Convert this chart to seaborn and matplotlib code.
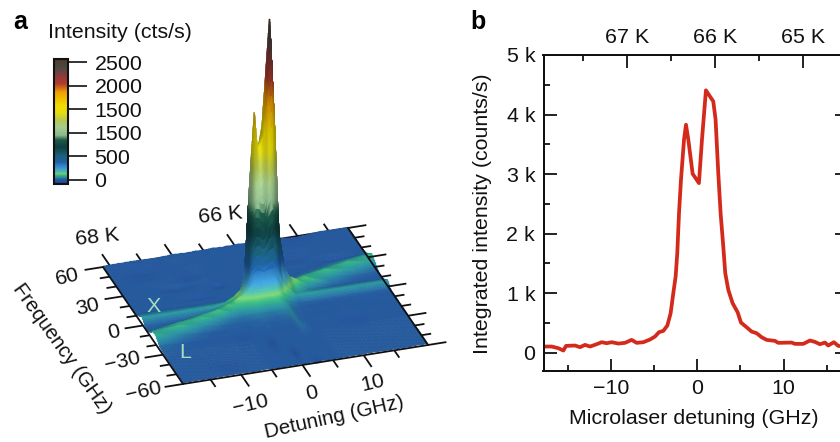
import numpy as np
import matplotlib
matplotlib.use("Agg")
import matplotlib.pyplot as plt
import seaborn as sns
from matplotlib.cm import ScalarMappable
from matplotlib.colors import LinearSegmentedColormap, Normalize

# ── Panel b: integrated intensity vs detuning ─────────────────
profile_detuning = [
    -17.84, -16.87, -16.10, -15.52, -15.21, -14.17, -13.59, -13.01, -12.43, -11.66,
    -11.08, -10.50, -9.92, -9.15, -8.38, -7.61, -7.03, -6.25, -5.48, -4.90,
    -4.44, -3.94, -3.47, -3.09, -2.78, -2.51, -2.32, -2.12, -1.89, -1.54,
    -1.31, -1.04, -0.54, 0.19, 0.54, 1.00, 1.85, 2.12, 2.43, 2.70,
    3.01, 3.24, 3.59, 4.09, 4.67, 5.06, 5.71, 6.29, 6.87, 7.45,
    8.03, 9.00, 9.38, 10.93, 11.31, 12.28, 13.05, 13.63, 14.21, 14.79,
    15.17, 15.83, 16.33, 17.00,
]
profile_counts = [
    101, 101, 73, 34, 112, 118, 90, 129, 101, 140,
    174, 157, 174, 151, 163, 213, 163, 174, 219, 269,
    342, 364, 454, 661, 998, 1278, 1670, 2343, 2904, 3576,
    3828, 3576, 3004, 2847, 3576, 4406, 4221, 3913, 3016, 2343,
    1783, 1334, 1054, 830, 678, 504, 426, 353, 325, 258,
    213, 196, 163, 168, 146, 146, 202, 179, 140, 168,
    118, 174, 112, 101,
]
y_ticks_b = [0, 1000, 2000, 3000, 4000, 5000]
y_labels_b = ["0", "1 k", "2 k", "3 k", "4 k", "5 k"]
x_ticks_b = [-10, 0, 10]
temps_b = [67, 66, 65]
temp_labels_b = ["67 K", "66 K", "65 K"]

# ── Panel a: intensity map ────────────────────────────────────
map_detuning = [-19.5, -15, -11, -8, -6, -4.5, -3.2, -2.4, -1.7, -0.9, -0.45, 0,
                0.6, 1.2, 1.8, 2.5, 3.2, 4.2, 5.5, 8, 12, 16, 20.5]
map_frequency = [60, 48, 38, 32, 28, 24, 20, 16, 13, 10, 8, 6, 4, 2, 0,
                 -2, -4, -7, -10, -14, -18, -24, -35, -48, -60]
map_counts = [
    [8, 12, 5, 15, 8, 12, 6, 10, 14, 9, 11, 7, 12, 8, 10, 14, 9, 6, 12, 7, -8, 10, 6],
    [12, -10, 10, 6, 14, 9, 12, 8, 10, 13, 7, 11, 9, 14, 8, 10, 12, 9, -12, 10, 12, 6, 9],
    [6, 10, 14, -5, 10, 8, 13, 11, 9, 12, 10, 14, 8, 11, 13, 9, 12, 15, 8, -6, 10, 13, 7],
    [10, 7, 12, 9, 16, 11, 9, 12, 10, 8, 13, 11, 14, 10, 9, 12, 10, 8, 11, 13, 9, -10, 22],
    [9, 12, -8, 11, 8, 13, 10, 14, 11, 9, 12, 8, 10, 13, 11, 10, 14, 12, 9, 8, 12, 28, 45],
    [7, 11, 9, 13, 10, -8, 12, 9, 11, 13, 10, 12, 9, 11, 14, 12, 10, 13, 8, 11, 25, 55, 88],
    [12, 8, 13, 10, 7, 11, 9, 12, 10, 14, 11, 13, 10, 12, 14, 11, 13, 9, 12, 22, 55, 92, 60],
    [8, 12, 10, -6, 13, 10, 12, 11, 9, 13, 12, 10, 14, 12, 18, 15, 13, 12, 24, 60, 95, 58, 25],
    [11, 9, 13, 10, 9, 12, 14, 10, 12, 16, 20, 35, 55, 70, 60, 45, 22, 24, 55, 90, 60, 25, 12],
    [9, 11, 8, 12, 11, 14, 12, 20, 45, 75, 90, 160, 320, 480, 420, 260, 90, 65, 90, 110, 35, 14, 9],
    [25, 25, 22, 20, 15, 13, 22, 60, 220, 520, 600, 700, 950, 1300, 1500, 1050, 340, 170, 150, 70, 16, 11, 13],
    [30, 30, 28, 30, 28, 30, 60, 170, 800, 1250, 1350, 1400, 1600, 2100, 2570, 1750, 650, 260, 130, 40, 14, 14, 12],
    [48, 48, 46, 46, 46, 55, 140, 280, 1050, 1780, 1450, 1450, 1550, 1950, 2350, 1500, 500, 220, 90, 34, 30, 28, 28],
    [62, 60, 60, 62, 72, 110, 170, 260, 700, 1000, 1000, 950, 950, 1150, 1250, 800, 260, 150, 65, 50, 46, 48, 44],
    [38, 36, 38, 42, 65, 100, 170, 220, 300, 340, 340, 320, 320, 340, 340, 260, 170, 110, 65, 62, 60, 58, 60],
    [22, 22, 28, 45, 80, 125, 160, 180, 200, 210, 200, 190, 190, 200, 200, 170, 110, 70, 40, 42, 40, 38, 42],
    [14, 16, 35, 70, 110, 95, 100, 110, 120, 120, 115, 110, 110, 115, 115, 100, 75, 45, 20, 18, 16, 18, 16],
    [12, 30, 75, 105, 65, 55, 60, 65, 70, 70, 65, 65, 65, 65, 70, 65, 60, 25, 14, 11, 9, 12, 10],
    [28, 72, 92, 55, 30, 30, 35, 40, 40, 40, 35, 35, 35, 40, 40, 45, 50, 20, 12, 13, 10, 9, 12],
    [70, 90, 45, 22, 15, 18, 20, 22, 25, 25, 22, 22, 20, 22, 25, 30, 45, 18, 11, 9, 12, 8, 11],
    [80, 40, 14, 11, 14, 12, 16, 14, 15, 16, 14, 13, 14, 15, 16, 20, 40, 15, 10, 12, 9, 13, 8],
    [28, 10, 13, 9, -6, 11, 12, 10, 14, 12, 10, 13, 11, 12, 10, 14, 30, 22, 9, 11, -5, 10, 12],
    [12, 9, 11, 14, 8, 12, 10, -8, 11, 13, 9, 12, 10, 14, 11, 9, 12, 10, 13, 8, 11, 12, 9],
    [8, 13, -6, 10, 12, 9, 13, 11, 8, 12, 10, -7, 12, 9, 13, 10, 11, 14, 9, 12, 10, 8, 11],
    [11, 9, 12, 8, 13, 10, 9, 12, 11, 9, 13, 10, 8, 12, 10, -5, 13, 9, 11, 10, 12, 9, 13],
]
freq_ticks_a = [60, 50, 40, 30, 20, 10, 0, -10, -20, -30, -40, -50, -60]
freq_majors_a = [60, 30, 0, -30, -60]
det_ticks_a = [-15, -10, -5, 0, 5, 10, 15]
det_majors_a = [-10, 0, 10]
temp_ticks_a = [68, 67.5, 67, 66.5, 66, 65.5, 65, 64.5]
temp_majors_a = [68, 67, 66, 65]

# ── Colour bar ────────────────────────────────────────────────
cbar_ticks = [0, 500, 1000, 1500, 2000, 2500]
cbar_labels = ["0", "500", "1500", "1500", "2000", "2500"]  # second 1500 is as printed
cmap_levels = [-85, -30, 10, 50, 90, 130, 170, 230, 380, 530, 700, 850, 950,
               1120, 1270, 1420, 1590, 1860, 2050, 2220, 2370, 2570]
cmap_colours = ["#2b2f90", "#27509c", "#255a9c", "#2a8a9a", "#35b080", "#78cc70",
                "#50b8a8", "#40a0d8", "#2060a8", "#1a5f78", "#103f3f", "#1d5a4a",
                "#8cb88c", "#a5cc90", "#b5c850", "#e6dc10", "#f0dc00", "#f0a000",
                "#b03b2e", "#8a3a3a", "#4d4a44", "#4f3a2c"]

INK = "#111111"
RED = "#d42a1c"
FONT = "Liberation Sans"
FS = 15.4

# pixel geometry of the tilted map: corner, then pixels per GHz and per count
PLANE_ORIGIN = (183.0, 384.0)
PLANE_DET = (6.125, -0.975)
PLANE_FREQ = (-0.667, -0.975)
PLANE_Z = 0.11


def project(det, freq, z=0.0):
    """Map detuning, frequency and counts to picture pixels."""
    det = np.asarray(det, dtype=float) + 19.5
    freq = np.asarray(freq, dtype=float) + 60.0
    sx = PLANE_ORIGIN[0] + PLANE_DET[0] * det + PLANE_FREQ[0] * freq
    sy = PLANE_ORIGIN[1] + PLANE_DET[1] * det + PLANE_FREQ[1] * freq - PLANE_Z * np.asarray(z)
    return sx, sy


def temp_to_det(t):
    return 2.05 + (66.0 - np.asarray(t, dtype=float)) * 10.2


def det_to_temp(d):
    return 66.0 - (np.asarray(d, dtype=float) - 2.05) / 10.2


sns.set_theme(style="ticks")
plt.rcParams.update({
    "font.family": [FONT, "DejaVu Sans"],
    "font.size": FS,
    "text.color": INK,
    "axes.edgecolor": INK,
    "xtick.color": INK,
    "ytick.color": INK,
})

fig = plt.figure(figsize=(8.4, 4.42), dpi=100, facecolor="white")
canvas = fig.add_axes([0, 0, 1, 1])
canvas.set_xlim(0, 840)
canvas.set_ylim(442, 0)
canvas.axis("off")

levels = np.array(cmap_levels, dtype=float)
norm = Normalize(levels[0], levels[-1])
cmap = LinearSegmentedColormap.from_list(
    "intensity", list(zip((levels - levels[0]) / (levels[-1] - levels[0]), cmap_colours)), N=512)

# Resample the read grid onto a fine one only so the steep walls render as
# smooth colour bands, the table above stays the source of every height.
fine_det = np.concatenate([np.linspace(-19.5, -5, 100), np.linspace(-5, 6, 400)[1:],
                           np.linspace(6, 20.5, 100)[1:]])
fine_freq = np.concatenate([np.linspace(60, 30, 80), np.linspace(30, -30, 240)[1:],
                            np.linspace(-30, -60, 60)[1:]])
grid = np.array(map_counts, dtype=float)
by_det = np.array([np.interp(fine_det, map_detuning, row) for row in grid])
freq_up = np.array(map_frequency[::-1], dtype=float)
surface = np.array([np.interp(fine_freq, freq_up, col) for col in by_det[::-1].T]).T

# simple front light so the walls and the band backs go darker, blurred
# along detuning so the facets of the table do not show as streaks
dz_df, dz_dd = np.gradient(surface, fine_freq, fine_det)
nx = -dz_dd * PLANE_Z / 6.2
ny = -dz_df * PLANE_Z / 6.0
length = np.sqrt(nx ** 2 + ny ** 2 + 1.0)
lam = (-0.7 * ny + 0.7) / length
shade = np.clip(0.45 + 0.8 * lam, 0.68, 1.08)
kernel = np.ones(31) / 31
shade = np.array([np.convolve(np.pad(row, 15, mode="edge"), kernel, mode="valid") for row in shade])
rgb = cmap(norm(surface))[..., :3] * shade[..., None]
rgb = np.clip(rgb, 0, 1)

mesh_d, mesh_f = np.meshgrid(fine_det, fine_freq)
sx, sy = project(mesh_d, mesh_f, surface)
canvas.pcolormesh(sx, sy, rgb[:-1, :-1], shading="flat", edgecolors="face", linewidth=0.15,
                  antialiased=True, zorder=2)

# box and ticks round the plane
corner_d = [-19.5, 20.5, 20.5, -19.5, -19.5]
corner_f = [60, 60, -60, -60, 60]
cx, cy = project(corner_d, corner_f)
canvas.plot(cx[:2], cy[:2], color=INK, lw=1.3, zorder=1)
canvas.plot(cx[1:3], cy[1:3], color=INK, lw=1.3, zorder=3)
canvas.plot(cx[2:4], cy[2:4], color=INK, lw=1.3, zorder=3)
canvas.plot(cx[3:], cy[3:], color=INK, lw=1.3, zorder=3)

for f in freq_ticks_a:
    reach = 3.0 if f in freq_majors_a else 1.6
    for edge, sign in ((-19.5, -1), (20.5, 1)):
        tx, ty = project([edge, edge + sign * reach], [f, f])
        canvas.plot(tx, ty, color=INK, lw=1.3, zorder=3, solid_capstyle="butt")
for d in det_ticks_a:
    reach = 12.0 if d in det_majors_a else 7.5
    tx, ty = project([d, d], [-60, -60 - reach])
    canvas.plot(tx, ty, color=INK, lw=1.3, zorder=3, solid_capstyle="butt")
for t in temp_ticks_a:
    reach = 12.0 if t in temp_majors_a else 7.5
    d = temp_to_det(t)
    tx, ty = project([d, d], [60, 60 + reach])
    canvas.plot(tx, ty, color=INK, lw=1.3, zorder=1, solid_capstyle="butt")

for label, px, py, rot in (("60", 67, 277, 13), ("30", 88, 307, 13), ("0", 114, 332, 13),
                           ("\u221230", 122, 362, 13), ("\u221260", 144, 392, 13),
                           ("\u221210", 250, 405, 13), ("0", 312, 393, 13), ("10", 373, 383, 13),
                           ("68 K", 97, 237, 6), ("66 K", 220, 215, 6)):
    canvas.text(px, py, label, rotation=rot, ha="center", va="center", fontsize=FS,
                rotation_mode="anchor", zorder=4)
canvas.text(62, 349, "Frequency (GHz)", rotation=-54.5, ha="center", va="center",
            fontsize=14.6, rotation_mode="anchor")
canvas.text(334, 417, "Detuning (GHz)", rotation=12.5, ha="center", va="center",
            fontsize=14.8, rotation_mode="anchor")
canvas.text(154, 306, "X", color="#a8dcc0", ha="center", va="center", fontsize=FS, zorder=4)
canvas.text(185, 353, "L", color="#a8dcc0", ha="center", va="center", fontsize=FS, zorder=4)

canvas.text(13, 29, "a", fontsize=18, fontweight="bold", color="black")
canvas.text(470, 29, "b", fontsize=18, fontweight="bold", color="black")
canvas.text(48, 38, "Intensity (cts/s)", fontsize=FS)

# colour bar
cax = fig.add_axes([54 / 840, 1 - 184 / 442, 14 / 840, 125 / 442])
cbar = fig.colorbar(ScalarMappable(norm=norm, cmap=cmap), cax=cax, ticks=cbar_ticks)
cbar.ax.set_yticklabels(cbar_labels)
cbar.outline.set_linewidth(1.5)
cbar.outline.set_edgecolor(INK)
cbar.ax.tick_params(length=14, width=1.2, pad=5, labelsize=FS)

# ── Panel b ───────────────────────────────────────────────────
ax = fig.add_axes([543.5 / 840, 1 - 371 / 442, (847 - 543.5) / 840, (371 - 55) / 442])
sns.lineplot(x=profile_detuning, y=profile_counts, color=RED, linewidth=2.7, ax=ax, zorder=3)
ax.set_xlim((543.5 - 697.3) / 8.63, (847 - 697.3) / 8.63)
ax.set_ylim(-310, 5000)
ax.set_xticks(x_ticks_b)
ax.set_xticks([-15, -5, 5, 15], minor=True)
ax.set_yticks(y_ticks_b)
ax.set_yticklabels(y_labels_b)
ax.set_yticks([500, 1500, 2500, 3500, 4500], minor=True)
ax.tick_params(which="major", direction="in", length=9, width=1.3, top=False, right=True,
               labelsize=FS, pad=6)
ax.tick_params(which="minor", direction="in", length=4.6, width=1.3, top=False, right=True)
for side in ax.spines.values():
    side.set_linewidth(1.4)

top = ax.twiny()
top.set_xlim(*det_to_temp(ax.get_xlim()))
top.set_xticks(temps_b)
top.set_xticklabels(temp_labels_b)
top.set_xticks([67.5, 66.5, 65.5], minor=True)
top.tick_params(which="major", direction="in", length=9, width=1.3, labelsize=FS, pad=6)
top.tick_params(which="minor", direction="in", length=4.6, width=1.3)
for side in top.spines.values():
    side.set_linewidth(1.4)

canvas.text(482, 214, "Integrated intensity (counts/s)", rotation=90, ha="center", va="center", fontsize=FS)
canvas.text(694, 418, "Microlaser detuning (GHz)", ha="center", va="center", fontsize=FS)

fig.savefig("out.png", dpi=100)
